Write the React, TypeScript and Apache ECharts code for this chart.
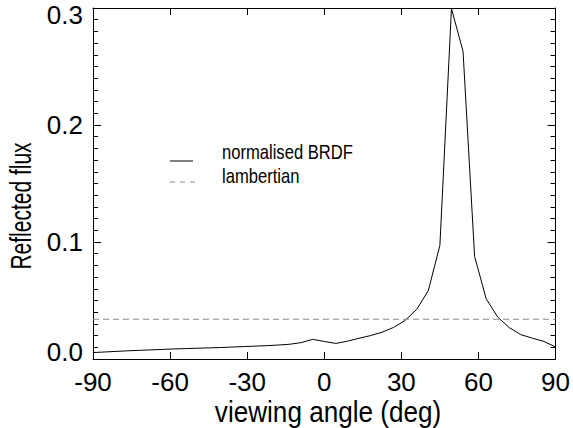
import React, { useEffect, useRef } from "react";
import * as echarts from "echarts";

const FONT = "'Liberation Sans', Arial, Helvetica, sans-serif";

const xTickValues = [-90, -60, -30, 0, 30, 60, 90];
const yTickValues = [0.0, 0.1, 0.2, 0.3];

const angles = [
  -90, -85.5, -81, -76.5, -72, -67.5, -63, -58.5, -54, -49.5, -45, -40.5, -36, -31.5,
  -27, -22.5, -18, -13.5, -9, -4.5, 0, 4.5, 9, 13.5, 18, 22.5, 27, 31.5, 36, 40.5, 45,
  49.5, 54, 58.5, 63, 67.5, 72, 76.5, 81, 85.5, 90,
];

const brdf = [
  0.0055, 0.006, 0.0065, 0.007, 0.0074, 0.0078, 0.0082, 0.0086, 0.0089, 0.0092, 0.0095,
  0.0098, 0.0102, 0.0106, 0.011, 0.0114, 0.0119, 0.0126, 0.014, 0.0168, 0.015, 0.0133,
  0.0152, 0.0177, 0.02, 0.0229, 0.027, 0.033, 0.0425, 0.0585, 0.0972, 0.2995, 0.263,
  0.0877, 0.0515, 0.0358, 0.0268, 0.0208, 0.0178, 0.015, 0.0103,
];

const lambertAngles = [-90, 90];
const lambertValues = [0.034, 0.034];

const seriesNames = ["normalised BRDF", "lambertian"];
const xTitle = "viewing angle (deg)";
const yTitle = "Reflected flux";

export default function App() {
  const ref = useRef<HTMLDivElement>(null);
  useEffect(() => {
    if (!ref.current) return;
    const chart = echarts.init(ref.current, null, { renderer: "svg" });
    const axisLine = { show: true, onZero: false, lineStyle: { color: "#000", width: 1 } };
    const xCommon = {
      type: "value" as const,
      min: xTickValues[0],
      max: xTickValues[xTickValues.length - 1],
      interval: 30,
      axisLine,
      axisTick: { show: true, inside: true, length: 7, lineStyle: { color: "#000" } },
      splitLine: { show: false },
    };
    const yCommon = {
      type: "value" as const,
      min: yTickValues[0],
      max: yTickValues[yTickValues.length - 1],
      interval: 0.1,
      axisLine,
      axisTick: { show: true, inside: true, length: 8, lineStyle: { color: "#000" } },
      minorTick: { show: true, splitNumber: 10, length: 5, lineStyle: { color: "#000" } },
      splitLine: { show: false },
      minorSplitLine: { show: false },
    };
    chart.setOption({
      animation: false,
      backgroundColor: "#fff",
      grid: { left: 93, top: 8, width: 464, height: 351, containLabel: false },
      xAxis: [
        {
          ...xCommon,
          position: "bottom",
          axisLabel: { fontSize: 26, fontFamily: FONT, color: "#000", margin: 10 },
        },
        { ...xCommon, position: "top", axisLabel: { show: false } },
      ],
      yAxis: [
        {
          ...yCommon,
          position: "left",
          axisLabel: {
            fontSize: 26,
            lineHeight: 14,
            fontFamily: FONT,
            color: "#000",
            margin: 10,
            formatter: (v: number) => v.toFixed(1),
            verticalAlignMinLabel: "bottom",
            verticalAlignMaxLabel: "top",
          },
        },
        { ...yCommon, position: "right", axisLabel: { show: false } },
      ],
      series: [
        {
          name: seriesNames[0],
          type: "line",
          data: angles.map((a, i) => [a, brdf[i]]),
          showSymbol: false,
          symbol: "none",
          lineStyle: { color: "#000", width: 1 },
        },
        {
          name: seriesNames[1],
          type: "line",
          data: lambertAngles.map((a, i) => [a, lambertValues[i]]),
          showSymbol: false,
          symbol: "none",
          lineStyle: { color: "#888", width: 1, type: [6, 4] },
        },
      ],
      graphic: [
        {
          type: "line",
          shape: { x1: 170, y1: 161, x2: 193, y2: 161 },
          style: { stroke: "#000", lineWidth: 1 },
        },
        {
          type: "text",
          x: 222,
          y: 152,
          scaleX: 0.83,
          style: { text: seriesNames[0], fontSize: 20, fontFamily: FONT, fill: "#000", align: "left", verticalAlign: "middle" },
        },
        {
          type: "line",
          shape: { x1: 170, y1: 182, x2: 196, y2: 182 },
          style: { stroke: "#888", lineWidth: 1, lineDash: [5, 5] },
        },
        {
          type: "text",
          x: 222,
          y: 176,
          scaleX: 0.83,
          style: { text: seriesNames[1], fontSize: 20, fontFamily: FONT, fill: "#000", align: "left", verticalAlign: "middle" },
        },
        {
          type: "text",
          x: 328,
          y: 412,
          scaleX: 0.87,
          style: { text: xTitle, fontSize: 30, fontFamily: FONT, fill: "#000", align: "center", verticalAlign: "middle" },
        },
        {
          type: "text",
          x: 21,
          y: 206,
          rotation: Math.PI / 2,
          scaleX: 0.7,
          style: { text: yTitle, fontSize: 30, fontFamily: FONT, fill: "#000", align: "center", verticalAlign: "middle" },
        },
      ],
    });
    return () => chart.dispose();
  }, []);
  return (
    <div
      ref={ref}
      style={{ position: "fixed", left: 0, top: 0, width: 573, height: 428, background: "#fff" }}
    />
  );
}
